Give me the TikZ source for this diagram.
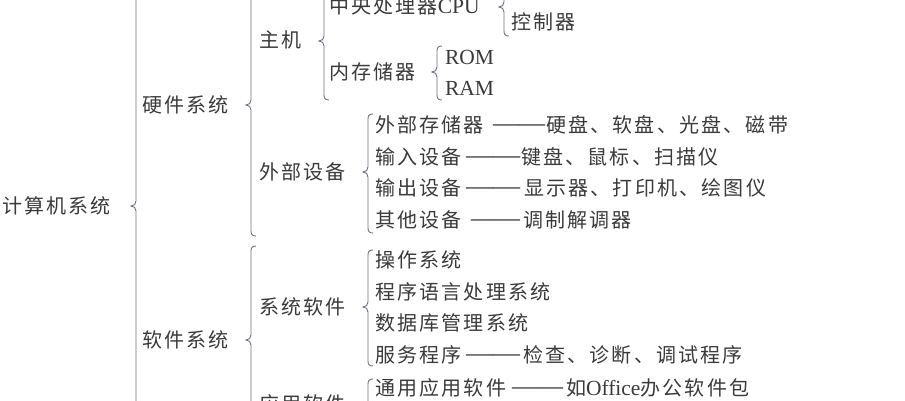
\documentclass[tikz,border=0pt]{standalone}
\usepackage{fontspec}
\usepackage{graphicx}
\setmainfont{Liberation Serif}
\newfontfamily\cjkf{Noto Sans CJK SC}[LetterSpace=11]
\newfontfamily\latf{Liberation Serif}
\newcommand\cjk{\cjkf\fontsize{20pt}{24pt}\selectfont}
\newcommand\lat[1]{{\latf\fontsize{21.5pt}{24pt}\selectfont #1}}
\newcommand\dsh[1]{\raisebox{1.4pt}{\resizebox{#1pt}{\height}{\latf\fontsize{26pt}{28pt}\selectfont ——}}}
\definecolor{textcol}{HTML}{3A3A3A}
\definecolor{linecol}{HTML}{6E6E7E}
\newcommand\mybrace[4]{%
  \draw[bracestyle] (#1+5,#2) .. controls (#1+1.5,#2) and (#1,#2+1.5) .. (#1,#2+5)
    -- (#1,#3-5) .. controls (#1,#3-2) and (#1-2,#3) .. (#1-5,#3)
    .. controls (#1-2,#3) and (#1,#3+2) .. (#1,#3+5)
    -- (#1,#4-5) .. controls (#1,#4-1.5) and (#1+1.5,#4) .. (#1+5,#4);}
\begin{document}
\begin{tikzpicture}[x=1pt,y=-1pt,
  txt/.style={anchor=base west,inner sep=0pt,outer sep=0pt,font=\cjk,text=textcol},
  bracestyle/.style={draw=linecol,line width=0.9pt}]
\useasboundingbox (0,0) rectangle (905,400);
\clip (0,0) rectangle (905,400);
% level 0-2
\node[txt] (n0) at (2,206+7.6) {计算机系统};
\node[txt] (hw) at (142,105+7.6) {硬件系统};
\node[txt] (sw) at (142,340+7.6) {软件系统};
\node[txt] (zj) at (259,40+7.6) {主机};
\node[txt] (wb) at (259,172+7.6) {外部设备};
\node[txt] (xt) at (259,307+7.6) {系统软件};
\node[txt] (yy) at (259,404+7.6) {应用软件};
% host
\node[txt] (cpu) at (329,6+7.6) {中央处理器\lat{CPU}};
\node[txt] (nc) at (329,72+7.6) {内存储器};
\node[txt] (ys) at (511,-9+7.6) {运算器};
\node[txt] (kz) at (511,22+7.6) {控制器};
\node[txt] (rom) at (445,57+7.6) {\lat{ROM}};
\node[txt] (ram) at (445,88+7.6) {\lat{RAM}};
% peripherals
\node[txt] (e1) at (375,125+7.6) {外部存储器};
\node[txt] (d1) at (493,125+7.6) {\dsh{52}};
\node[txt] (r1) at (546,125+7.6) {硬盘、软盘、光盘、磁带};
\node[txt] (e2) at (375,157+7.6) {输入设备};
\node[txt] (d2) at (466,157+7.6) {\dsh{54}};
\node[txt] (r2) at (521,157+7.6) {键盘、鼠标、扫描仪};
\node[txt] (e3) at (375,188+7.6) {输出设备};
\node[txt] (d3) at (466,188+7.6) {\dsh{54}};
\node[txt] (r3) at (524,188+7.6) {显示器、打印机、绘图仪};
\node[txt] (e4) at (375,220+7.6) {其他设备};
\node[txt] (d4) at (471,220+7.6) {\dsh{49}};
\node[txt] (r4) at (523,220+7.6) {调制解调器};
% system software
\node[txt] (s1) at (375,260+7.6) {操作系统};
\node[txt] (s2) at (375,292+7.6) {程序语言处理系统};
\node[txt] (s3) at (375,323+7.6) {数据库管理系统};
\node[txt] (s4) at (375,355+7.6) {服务程序};
\node[txt] (d5) at (466,355+7.6) {\dsh{54}};
\node[txt] (r5) at (523,355+7.6) {检查、诊断、调试程序};
% application software
\node[txt] (a1) at (375,388+7.6) {通用应用软件};
\node[txt] (d6) at (512,388+7.6) {\dsh{51}};
\node[txt] (r6) at (566,388+7.6) {如\lat{Office}办公软件包};
% braces
\mybrace{136}{-40}{206}{452}
\mybrace{251}{-26}{105}{236}
\mybrace{251}{246}{340}{434}
\mybrace{324}{-18}{41}{100}
\mybrace{504}{-22}{7}{36}
\mybrace{437}{46}{72}{100}
\mybrace{368}{114}{172}{233}
\mybrace{368}{250}{307}{366}
\mybrace{368}{379}{436}{493}
\end{tikzpicture}
\end{document}
